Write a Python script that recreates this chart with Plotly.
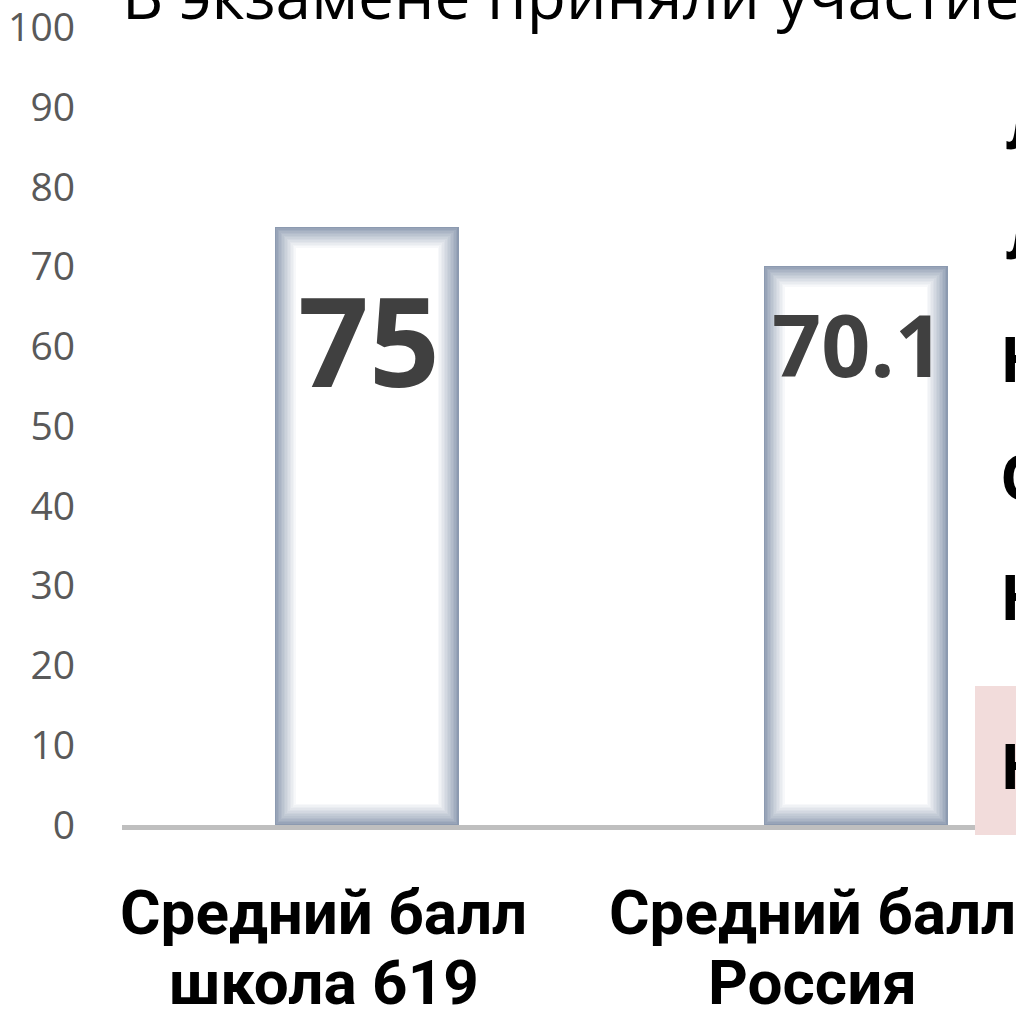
import plotly.graph_objects as go

# ---- data ----
categories_line1 = ["Средний балл", "Средний балл"]
categories_line2 = ["школа 619", "Россия"]
values = [75, 70.1]
value_labels = ["75", "70.1"]
value_font_sizes = [124, 86]
value_label_offsets = [112, 78]  # px below bar top
title_text = "В экзамене приняли участие"
side_letters = ["Л", "Л", "Н", "О", "Н", "Н"]
y_ticks = [0, 10, 20, 30, 40, 50, 60, 70, 80, 90, 100]

W, H = 1016, 1009
y_top = 103.2
y_px = 797 / 100.0
L, R, B = 122, 0, 184
T = H - B - y_top * y_px
plot_w = W - L - R
plot_h = H - T - B
cat_px = 489.0  # pixels per category
x_min = -0.5
x_max = x_min + plot_w / cat_px


def px_x(px):
    return (px - L) / plot_w


def px_y(py):
    return (H - B - py) / plot_h


fig = go.Figure()

# glow layers (outer blue-gray edge fading to white)
bar_w = 184 / cat_px
n_layers = 15
edge = (140, 154, 176)
xs = list(range(len(values)))
for i in range(n_layers):
    inset = i * 1.5
    t = (i / (n_layers - 1)) ** 0.85
    c = tuple(int(edge[k] + (255 - edge[k]) * t) for k in range(3))
    dx = inset / cat_px
    dy = inset / y_px
    fig.add_trace(go.Bar(
        x=xs,
        y=[v - 2 * dy for v in values],
        base=[dy] * len(values),
        width=bar_w - 2 * dx,
        marker=dict(color="rgb(%d,%d,%d)" % c, line=dict(width=0)),
        hoverinfo="skip",
        showlegend=False,
    ))

# value labels inside bars
for i, v in enumerate(values):
    fig.add_annotation(
        x=i, y=v, xref="x", yref="y",
        text="<b>%s</b>" % value_labels[i],
        showarrow=False, yanchor="middle", xanchor="center",
        yshift=-value_label_offsets[i], xshift=2,
        font=dict(family="Open Sans", size=value_font_sizes[i], color="#404040"),
    )

# category labels (two lines)
for i in range(len(values)):
    fig.add_annotation(
        x=i, xref="x", y=px_y(912), yref="paper",
        text="<b>%s</b>" % categories_line1[i], showarrow=False,
        xanchor="center", yanchor="middle", xshift=-43,
        font=dict(family="Roboto", size=62, color="#000000"),
    )
    fig.add_annotation(
        x=i, xref="x", y=px_y(982), yref="paper",
        text="<b>%s</b>" % categories_line2[i], showarrow=False,
        xanchor="center", yanchor="middle", xshift=-43,
        font=dict(family="Roboto", size=62, color="#000000"),
    )

# title (cut off at the top of the slide)
fig.add_annotation(
    x=px_x(120), xref="paper", y=px_y(-5), yref="paper",
    text=title_text, showarrow=False, xanchor="left", yanchor="middle",
    font=dict(family="Open Sans", size=64, color="#000000"),
)

# pink box at right
fig.add_shape(
    type="rect", xref="paper", yref="paper",
    x0=px_x(975), x1=px_x(1030), y0=px_y(835), y1=px_y(686),
    fillcolor="#f2dcdb", line=dict(width=0), layer="above",
)

# cut-off side text
side_y = [125, 235, 358, 476, 596, 765]
side_x = [1004, 1004, 998, 998, 998, 998]
for ch, py, sx in zip(side_letters, side_y, side_x):
    fig.add_annotation(
        x=px_x(sx), xref="paper", y=px_y(py), yref="paper",
        text="<b>%s</b>" % ch, showarrow=False, xanchor="left", yanchor="middle",
        font=dict(family="Open Sans", size=62, color="#000000"),
    )

fig.update_layout(
    width=W, height=H,
    margin=dict(l=L, r=R, t=T, b=B, pad=0),
    paper_bgcolor="#ffffff", plot_bgcolor="#ffffff",
    barmode="overlay", bargap=0,
    showlegend=False,
    xaxis=dict(range=[x_min, x_max], showgrid=False, zeroline=False,
               showticklabels=False, ticks="",
               showline=True, linecolor="#bfbfbf", linewidth=5),
    yaxis=dict(range=[0, y_top], tickvals=y_ticks, showgrid=False, zeroline=False,
               showline=False, ticks="", ticklabelstandoff=46,
               ticklabeloverflow="allow",
               tickfont=dict(family="Open Sans", size=39, color="#595959")),
)

fig.write_html("out.html", config={"displayModeBar": False},
               post_script="document.body.style.margin='0px';")
